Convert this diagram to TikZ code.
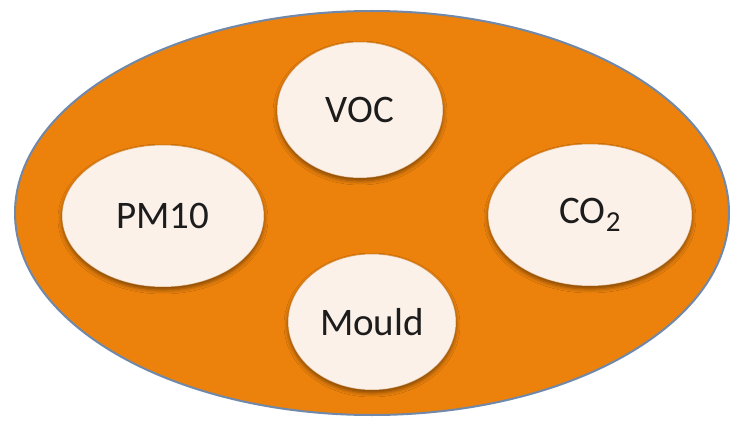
\documentclass[tikz,border=0pt]{standalone}
\usepackage{fontspec}
\setmainfont{Carlito}
\usetikzlibrary{shapes.geometric,shadows.blur}
\definecolor{ringorange}{RGB}{236,130,12}
\definecolor{rimblue}{RGB}{112,136,170}
\definecolor{bubble}{RGB}{252,241,233}
\definecolor{labelink}{RGB}{28,28,28}
\begin{document}
\begin{tikzpicture}[x=1pt,y=-1pt,
  bubblenode/.style={ellipse, fill=bubble, draw=ringorange!75!black,
    draw opacity=0.35, line width=1pt, inner sep=0pt, text=labelink,
    font=\fontsize{39}{44}\selectfont,
    blur shadow={shadow xshift=0pt, shadow yshift=-3pt,
      shadow blur radius=4pt, shadow opacity=45}}]
  \useasboundingbox (0,0) rectangle (736,425);
  \fill[white] (0,0) rectangle (736,425);
  % large orange field
  \draw[fill=ringorange, draw=rimblue, line width=2pt]
    (372,213) ellipse [x radius=357, y radius=202];
  % the four pollutant bubbles
  \node[bubblenode, minimum width=166pt, minimum height=136pt] (voc)   at (360,110) {VOC};
  \node[bubblenode, minimum width=202pt, minimum height=142pt] (pm)    at (163,216) {PM10};
  \node[bubblenode, minimum width=204pt, minimum height=142pt] (co)    at (590,215)
    {CO\raisebox{-0.22em}{\fontsize{29}{30}\selectfont 2}};
  \node[bubblenode, minimum width=168pt, minimum height=136pt] (mould) at (372,322) {Mould};
\end{tikzpicture}
\end{document}
